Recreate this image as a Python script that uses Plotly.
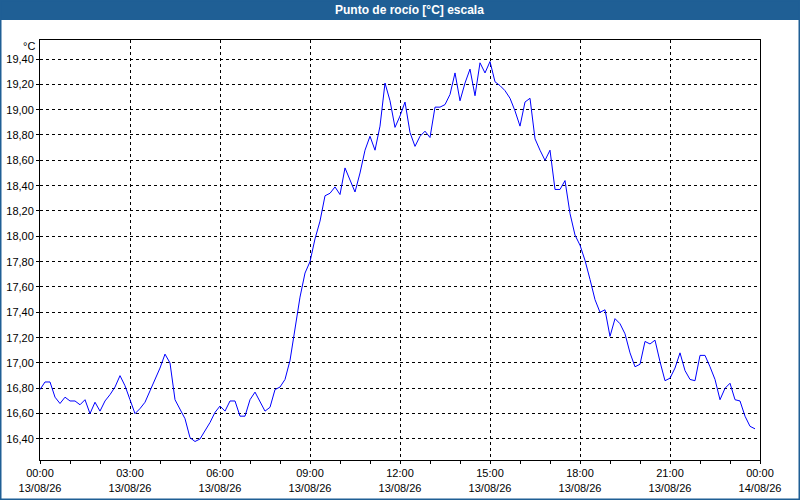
import pandas as pd
import plotly.graph_objects as go

# === Data: dew point, one reading every 10 minutes on 13/08/26 ===
start_time = "2026-08-13 00:00"
end_time = "2026-08-14 00:00"
times = pd.date_range(start_time, periods=144, freq="10min")

dew_point = [
    16.79, 16.85, 16.85, 16.73, 16.68, 16.73, 16.70, 16.70, 16.67, 16.71,
    16.60, 16.69, 16.62, 16.70, 16.75, 16.81, 16.90, 16.82, 16.71, 16.60,
    16.64, 16.69, 16.78, 16.87, 16.96, 17.07, 17.00, 16.71, 16.64, 16.56,
    16.41, 16.38, 16.40, 16.46, 16.53, 16.61, 16.66, 16.62, 16.70, 16.70,
    16.58, 16.58, 16.71, 16.77, 16.69, 16.62, 16.65, 16.79, 16.81, 16.87,
    17.02, 17.28, 17.52, 17.71, 17.80, 17.98, 18.12, 18.32, 18.34, 18.39,
    18.33, 18.54, 18.45, 18.35, 18.50, 18.68, 18.79, 18.68, 18.87, 19.21,
    19.07, 18.86, 18.95, 19.06, 18.82, 18.71, 18.79, 18.83, 18.78, 19.02,
    19.02, 19.04, 19.12, 19.29, 19.07, 19.21, 19.32, 19.11, 19.37, 19.29,
    19.38, 19.22, 19.19, 19.15, 19.09, 18.99, 18.87, 19.06, 19.09, 18.77,
    18.68, 18.60, 18.68, 18.37, 18.37, 18.44, 18.18, 18.01, 17.93, 17.81,
    17.66, 17.50, 17.40, 17.42, 17.21, 17.35, 17.31, 17.23, 17.08, 16.97,
    16.99, 17.17, 17.15, 17.18, 17.01, 16.86, 16.88, 16.96, 17.08, 16.94,
    16.87, 16.86, 17.06, 17.06, 16.97, 16.87, 16.71, 16.80, 16.84, 16.71,
    16.70, 16.58, 16.50, 16.48,
]

title_text = "Punto de rocío [°C] escala"
unit_text = "°C"

# === Figure geometry (pixels) ===
W, H = 800, 500
ML, MR, MT, MB = 40, 40, 40, 40
PW, PH = W - ML - MR, H - MT - MB

BLUE = "#1f5f95"
HOUR_MS = 3600 * 1000

fig = go.Figure(go.Scatter(
    x=times, y=dew_point,
    mode="lines",
    line=dict(color="#0000ff", width=1),
    hoverinfo="x+y",
))

axis_common = dict(
    showline=True, mirror=True, linecolor="black", linewidth=1,
    showgrid=True, gridcolor="black", gridwidth=1, griddash="3px,3px",
    zeroline=False,
    ticks="outside", ticklen=3, tickcolor="black",
    tickfont=dict(family="Liberation Sans", size=11, color="black"),
    automargin=False,
)

fig.update_xaxes(
    type="date",
    range=[start_time, end_time],
    dtick=3 * HOUR_MS,
    tick0=start_time,
    tickformat="%H:%M<br>%d/%m/%y",
    minor=dict(dtick=HOUR_MS, ticks="outside", ticklen=3, tickcolor="black", showgrid=False),
    **axis_common,
)
fig.update_yaxes(
    range=[16.234, 19.55],
    dtick=0.2,
    tick0=16.4,
    tickformat=".2f",
    **axis_common,
)

# title bar + outer frame live in the margins
fig.add_shape(type="rect", xref="paper", yref="paper",
              x0=-ML / PW, x1=1 + MR / PW, y0=1 + 20 / PH, y1=1 + MT / PH + 0.01,
              fillcolor=BLUE, line=dict(width=0))
fig.add_shape(type="rect", xref="paper", yref="paper",
              x0=-ML / PW, x1=1 + MR / PW, y0=-MB / PH, y1=1 + MT / PH,
              fillcolor="rgba(0,0,0,0)", line=dict(color=BLUE, width=3))

fig.add_annotation(text="<b>" + title_text + "</b>", xref="paper", yref="paper",
                   x=(410 - ML) / PW, y=1 + 30 / PH, xanchor="center", yanchor="middle",
                   showarrow=False, font=dict(family="Liberation Sans", size=12, color="white"))
fig.add_annotation(text=unit_text, xref="paper", yref="paper",
                   x=-3 / PW, y=1 - 6 / PH, xanchor="right", yanchor="middle",
                   showarrow=False, font=dict(family="Liberation Sans", size=11, color="black"))

fig.update_layout(
    width=W, height=H,
    margin=dict(l=ML, r=MR, t=MT, b=MB, autoexpand=False),
    paper_bgcolor="white", plot_bgcolor="white",
    separators=",.",
    showlegend=False,
)

# drop the browser's default body margin so the chart sits at the page corner
fig.write_html("out.html", config={"displayModeBar": False},
               post_script="document.body.style.margin='0';")
